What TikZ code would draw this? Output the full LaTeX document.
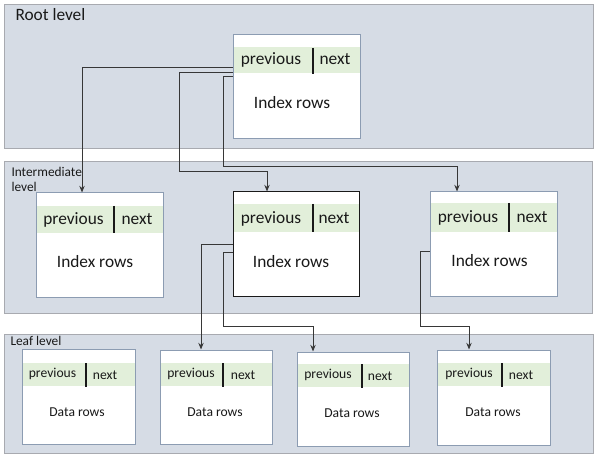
\documentclass[tikz,border=0pt]{standalone}
\usepackage{fontspec}
\setmainfont{Carlito}
\usetikzlibrary{arrows.meta,fit}
\definecolor{bandfill}{RGB}{214,220,229}
\definecolor{bandline}{RGB}{168,170,176}
\definecolor{boxline}{RGB}{140,156,178}
\definecolor{stripfill}{RGB}{226,239,218}
\definecolor{wire}{RGB}{55,55,55}
\definecolor{ink}{RGB}{25,25,25}
\tikzset{every picture/.style={line width=0.75pt}}
\tikzset{
  levelband/.style={draw=bandline,fill=bandfill},
  pagebox/.style={draw=boxline,fill=white,inner sep=0pt},
  pstrip/.style={fill=stripfill},
  bigtext/.style={anchor=base,inner sep=0pt,text=ink,font=\fontsize{13}{15}\selectfont},
  smalltext/.style={anchor=base,inner sep=0pt,text=ink,font=\fontsize{10.2}{12}\selectfont},
  leveltext/.style={inner sep=0pt,text=ink,align=left,font=\fontsize{10}{11.25}\selectfont},
  divider/.style={draw=ink,line width=1.2pt},
  link/.style={draw=wire,-{Stealth[length=5pt,width=4pt]}},
}

\begin{document}
\begin{tikzpicture}[x=0.75pt,y=0.75pt,yscale=-1,xscale=1]
		\path[use as bounding box,fill=white] (0,0) rectangle (599,459);
		
		%Shape: Rectangle (root level)
		\draw[levelband] (4,5) rectangle (593,149);
		%Shape: Rectangle (intermediate level)
		\draw[levelband] (4,162) rectangle (592,314);
		%Shape: Rectangle (leaf level)
		\draw[levelband] (4,334) rectangle (593,453);
		
		%Text Node
		\node[leveltext,anchor=base west] (rootlabel) at (15,21) {\fontsize{13}{15}\selectfont Root level};
		%Text Node
		\node[leveltext,anchor=north west] (intlabel) at (11,167) {Intermediate\\level};
		%Text Node
		\node[leveltext,anchor=base west] (leaflabel) at (10,345) {Leaf level};
		
		%Shape: Rectangle (root page)
		\node[pagebox,fit={(233,35) (360,139)}] (root) {};
		\fill[pstrip] (233.5,47) rectangle (359.5,73);
		\draw[divider] (313,48) -- (313,74);
		\node[bigtext] (rootprev) at (271,65) {previous};
		\node[bigtext] (rootnext) at (335,65) {next};
		\node[bigtext] (rootrows) at (292,109) {Index rows};
		
		%Shape: Rectangle (intermediate pages)
		\node[pagebox,fit={(36,193) (163,298)}] (int1) {};
		\fill[pstrip] (36.5,206) rectangle (162.5,233);
		\draw[divider] (114,206) -- (114,233);
		\node[bigtext] (int1prev) at (73.5,225) {previous};
		\node[bigtext] (int1next) at (137,225) {next};
		\node[bigtext] (int1rows) at (95,268) {Index rows};
		
		\node[pagebox,draw=ink,fit={(233,192) (359,297)}] (int2) {};
		\fill[pstrip] (233.5,204) rectangle (358.5,232);
		\draw[divider] (313,204) -- (313,232);
		\node[bigtext] (int2prev) at (271,224) {previous};
		\node[bigtext] (int2next) at (334,224) {next};
		\node[bigtext] (int2rows) at (291,268) {Index rows};
		
		\node[pagebox,fit={(430,192) (557,297)}] (int3) {};
		\fill[pstrip] (430.5,203) rectangle (556.5,232);
		\draw[divider] (509,203) -- (509,232);
		\node[bigtext] (int3prev) at (468,223) {previous};
		\node[bigtext] (int3next) at (532,223) {next};
		\node[bigtext] (int3rows) at (489.5,267) {Index rows};
		
		%Shape: Rectangle (leaf pages)
		\node[pagebox,fit={(22,349) (135,444)}] (leaf1) {};
		\fill[pstrip] (22.5,363) rectangle (134.5,386);
		\draw[divider] (86,363) -- (86,387);
		\node[smalltext] (leaf1prev) at (52.5,377) {previous};
		\node[smalltext] (leaf1next) at (105,379) {next};
		\node[smalltext] (leaf1rows) at (77,416) {Data rows};
		
		\node[pagebox,fit={(160,350) (272,444)}] (leaf2) {};
		\fill[pstrip] (160.5,363) rectangle (271.5,386);
		\draw[divider] (223,363) -- (223,387);
		\node[smalltext] (leaf2prev) at (191,377) {previous};
		\node[smalltext] (leaf2next) at (243,379) {next};
		\node[smalltext] (leaf2rows) at (215,416) {Data rows};
		
		\node[pagebox,fit={(297,352) (409,446)}] (leaf3) {};
		\fill[pstrip] (297.5,364) rectangle (408.5,387);
		\draw[divider] (362,364) -- (362,388);
		\node[smalltext] (leaf3prev) at (328,378) {previous};
		\node[smalltext] (leaf3next) at (380,380) {next};
		\node[smalltext] (leaf3rows) at (352,417) {Data rows};
		
		\node[pagebox,fit={(437,350) (550,445)}] (leaf4) {};
		\fill[pstrip] (437.5,363) rectangle (549.5,386);
		\draw[divider] (502,363) -- (502,387);
		\node[smalltext] (leaf4prev) at (469,377) {previous};
		\node[smalltext] (leaf4next) at (521,379) {next};
		\node[smalltext] (leaf4rows) at (493,416) {Data rows};
		
		%Straight Lines (root to intermediate)
		\draw[link] (root.west |- 0,68) -| (82,0 |- int1.north);
		\draw[link] (root.west |- 0,73) -| (179,172) -| (267,0 |- int2.north);
		\draw[link] (root.west |- 0,77) -| (223,167) -| (457,0 |- int3.north);
		%Straight Lines (intermediate to leaf)
		\draw[link] (int2.west |- 0,245) -| (201,0 |- leaf2.north);
		\draw[link] (int2.west |- 0,253) -| (223,326) -| (313,0 |- leaf3.north);
		\draw[link] (int3.west |- 0,252) -| (420,326) -| (469,0 |- leaf4.north);
	\end{tikzpicture}
\end{document}
